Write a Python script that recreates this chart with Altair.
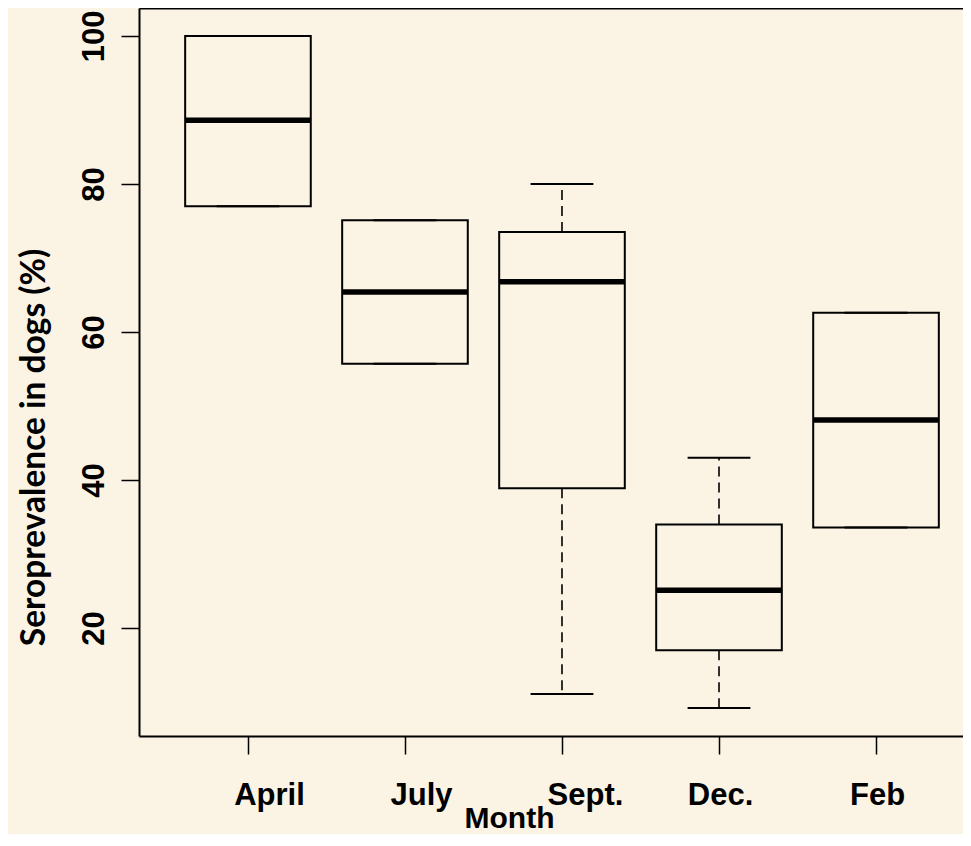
import json
import altair as alt
import pandas as pd

# ---- data ----
months = ["April", "July", "Sept.", "Dec.", "Feb"]
lower_whisker = [77.0, 55.7, 11.1, 9.2, 33.6]
q1 = [77.0, 55.7, 38.9, 17.0, 33.6]
median = [88.6, 65.4, 66.8, 25.1, 48.1]
q3 = [100.0, 75.1, 73.5, 34.0, 62.6]
upper_whisker = [100.0, 75.1, 80.0, 43.0, 62.6]
y_ticks = [20, 40, 60, 80, 100]

df = pd.DataFrame({
    "idx": list(range(1, len(months) + 1)),
    "month": months,
    "lo": lower_whisker,
    "q1": q1,
    "med": median,
    "q3": q3,
    "hi": upper_whisker,
})

label_expr = json.dumps(months) + "[datum.value - 1]"

x_scale = alt.Scale(domain=[0.306, 5.554], nice=False, zero=False)
y_scale = alt.Scale(domain=[5.41, 103.78], nice=False, zero=False)

base = alt.Chart(df).transform_calculate(
    left="datum.idx - 0.4",
    right="datum.idx + 0.4",
    sl="datum.idx - 0.2",
    sr="datum.idx + 0.2",
)

# the reference's month labels sit a little right of some ticks
label_offset = {
    "condition": [
        {"test": "datum.value == 1", "value": 21},
        {"test": "datum.value == 2", "value": 16},
        {"test": "datum.value == 3", "value": 23},
    ],
    "value": 1,
}

x_axis = alt.Axis(
    values=[1, 2, 3, 4, 5],
    labelExpr=label_expr,
    title="Month",
    orient="bottom",
    domain=True, domainColor="black", domainWidth=2,
    ticks=True, tickColor="black", tickWidth=1.5, tickSize=18,
    labelFont="Liberation Sans", labelFontWeight="bold", labelFontSize=31,
    labelColor="black", labelPadding=26, labelAngle=0,
    labelOffset=label_offset,
    titleFont="Liberation Sans", titleFontWeight="bold", titleFontSize=30,
    titleColor="black", titleX=370, titleY=91, titleBaseline="alphabetic",
    titleAnchor="start", titleAlign="center",
    grid=False,
)

y_axis = alt.Axis(
    values=y_ticks,
    title="Seroprevalence in dogs (%)",
    domain=True, domainColor="black", domainWidth=2,
    ticks=True, tickColor="black", tickWidth=1.5, tickSize=18,
    labelFont="Liberation Sans", labelFontWeight="bold", labelFontSize=31,
    labelColor="black", labelAngle=-90, labelAlign="center",
    labelBaseline="alphabetic", labelPadding=18,
    titleFont="Lato", titleFontWeight="bold", titleFontSize=33.5,
    titleColor="black", titleAngle=-90, titleX=-95, titleY=439,
    titleAlign="center", titleBaseline="alphabetic",
    grid=False,
)

Y = lambda f: alt.Y(f, scale=y_scale, axis=y_axis)

box = base.mark_rect(fillOpacity=0, stroke="black", strokeWidth=2).encode(
    x=alt.X("left:Q", scale=x_scale, axis=x_axis),
    x2="right:Q",
    y=Y("q1:Q"),
    y2="q3:Q",
)

whisk_up = base.mark_rule(color="black", strokeWidth=1.6, strokeDash=[10, 6]).encode(
    x=alt.X("idx:Q", scale=x_scale, axis=None),
    y=Y("q3:Q"),
    y2="hi:Q",
)
whisk_lo = base.mark_rule(color="black", strokeWidth=1.6, strokeDash=[10, 6]).encode(
    x=alt.X("idx:Q", scale=x_scale, axis=None),
    y=Y("q1:Q"),
    y2="lo:Q",
)
staple_hi = base.mark_rule(color="black", strokeWidth=2).encode(
    x=alt.X("sl:Q", scale=x_scale, axis=None),
    x2="sr:Q",
    y=Y("hi:Q"),
)
staple_lo = base.mark_rule(color="black", strokeWidth=2).encode(
    x=alt.X("sl:Q", scale=x_scale, axis=None),
    x2="sr:Q",
    y=Y("lo:Q"),
)
med = base.mark_rule(color="black", strokeWidth=5.5).encode(
    x=alt.X("left:Q", scale=x_scale, axis=None),
    x2="right:Q",
    y=Y("med:Q"),
)
# invisible layer carrying the top frame line (axis domain only)
top_frame = base.mark_rule(opacity=0).encode(
    x=alt.X("idx:Q", scale=x_scale,
            axis=alt.Axis(orient="top", labels=False, ticks=False, title=None,
                          domain=True, domainColor="black", domainWidth=2, grid=False)),
    y=Y("med:Q"),
)

chart = alt.layer(box, whisk_up, whisk_lo, staple_hi, staple_lo, med, top_frame).resolve_axis(
    x="independent"
).properties(
    width=824,
    height=728,
    autosize=alt.AutoSizeParams(type="none"),
    padding={"left": 131, "top": 0, "right": 0, "bottom": 98},
    background="#FBF4E4",
).configure_view(stroke=None)

chart.save("out.html", embed_options={"renderer": "svg", "actions": False})
